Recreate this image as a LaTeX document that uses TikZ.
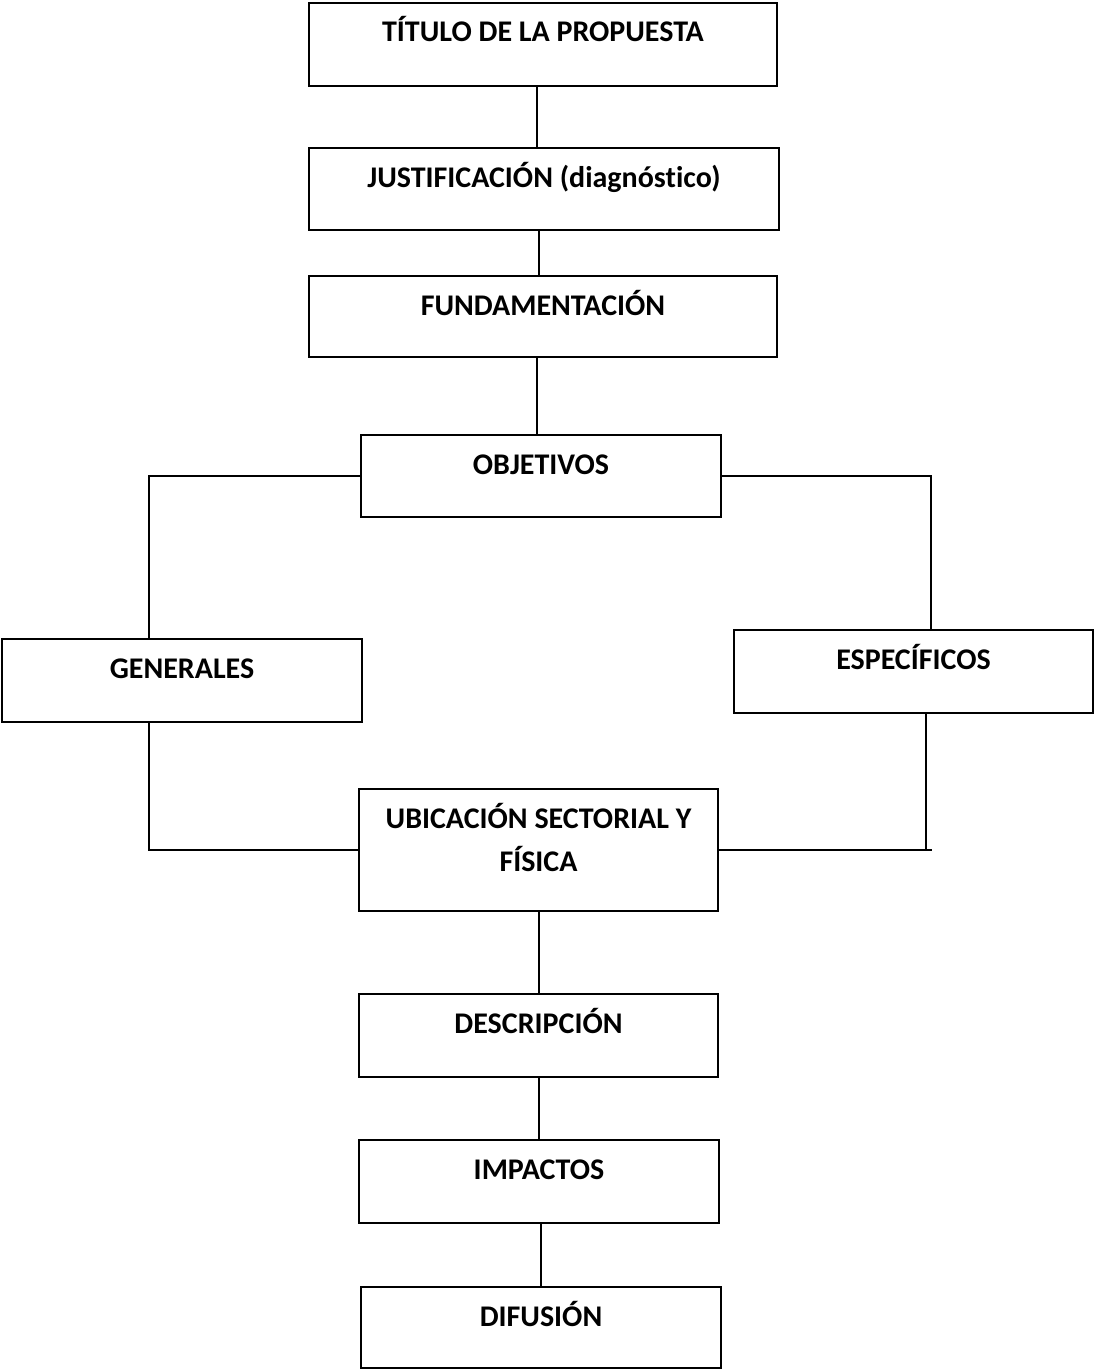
\documentclass[tikz,border=0pt]{standalone}
\usepackage{fontspec}
\setmainfont{Carlito}[Ligatures=NoCommon]
\usetikzlibrary{calc}
\tikzset{
  box/.style={draw, line width=2pt, inner sep=0pt, minimum width=#1},
  lbl/.style={anchor=base, inner sep=0pt, font=\fontsize{30}{43}\selectfont\bfseries},
  link/.style={line width=2pt}
}
\newcommand{\boxtext}[3]{\node[lbl] (#1) at ($(#2.north)+(0,40)$) {#3};}
\begin{document}
\begin{tikzpicture}[x=1pt,y=-1pt]
\useasboundingbox (0,0) rectangle (1094,1370);
% boxes
\node[box=468pt, minimum height=83pt] (t)  at (543,44.5)   {};
\node[box=470pt, minimum height=82pt] (j)  at (544,189)    {};
\node[box=468pt, minimum height=81pt] (f)  at (543,316.5)  {};
\node[box=360pt, minimum height=82pt] (o)  at (541,476)    {};
\node[box=360pt, minimum height=83pt] (g)  at (182,680.5)  {};
\node[box=359pt, minimum height=83pt] (e)  at (913.5,671.5){};
\node[box=359pt, minimum height=122pt] (u) at (538.5,850)  {};
\node[box=359pt, minimum height=83pt] (d)  at (538.5,1035.5){};
\node[box=360pt, minimum height=83pt] (i)  at (539,1181.5) {};
\node[box=360pt, minimum height=81pt] (df) at (541,1327.5) {};
% labels
\boxtext{tl}{t}{TÍTULO DE LA PROPUESTA}
\boxtext{jl}{j}{JUSTIFICACIÓN (diagnóstico)}
\boxtext{fl}{f}{FUNDAMENTACIÓN}
\boxtext{ol}{o}{OBJETIVOS}
\boxtext{gl}{g}{GENERALES}
\boxtext{el}{e}{ESPECÍFICOS}
\boxtext{ul}{u}{\begin{tabular}[t]{@{}c@{}}UBICACIÓN SECTORIAL Y\\ FÍSICA\end{tabular}}
\boxtext{dl}{d}{DESCRIPCIÓN}
\boxtext{il}{i}{IMPACTOS}
\boxtext{dfl}{df}{DIFUSIÓN}
% connectors
\draw[link] ([xshift=-6pt]t.south) -- ([xshift=-6pt]t.south |- j.north);
\draw[link] ([xshift=-5pt]j.south) -- ([xshift=-5pt]j.south |- f.north);
\draw[link] ([xshift=-6pt]f.south) -- ([xshift=-6pt]f.south |- o.north);
\draw[link] (o.west) -| ([xshift=-33pt]g.north);
\draw[link] (o.east) -| ([xshift=17.5pt]e.north);
\draw[link] ([xshift=-33pt]g.south) |- (u.west);
\draw[link] ([xshift=12pt]e.south) -- ([xshift=12pt]e.south |- u.east);
\draw[link] (u.east) -- ([xshift=18pt]e.south |- u.east);
\draw[link] (u.south) -- (u.south |- d.north);
\draw[link] (d.south) -- (d.south |- i.north);
\draw[link] ([xshift=2pt]i.south) -- ([xshift=2pt]i.south |- df.north);
\end{tikzpicture}
\end{document}
